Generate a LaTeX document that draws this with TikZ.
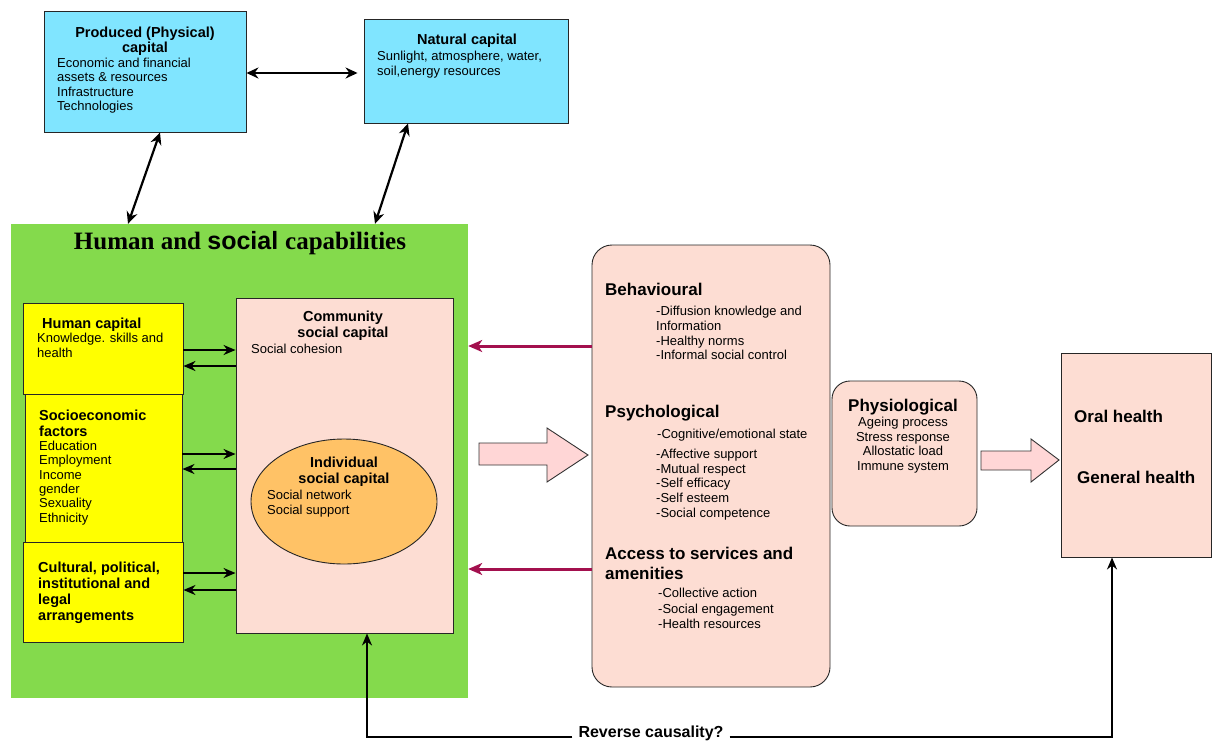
\documentclass[tikz,border=0pt]{standalone}
\usepackage{fontspec}
\setmainfont{Liberation Sans}
\newfontfamily\titleserif{Liberation Serif}
\usetikzlibrary{arrows.meta,shapes.geometric}
\definecolor{capcyan}{RGB}{128,229,255}
\definecolor{capgreen}{RGB}{132,218,76}
\definecolor{capyellow}{RGB}{255,255,0}
\definecolor{softpink}{RGB}{253,221,211}
\definecolor{arrowpink}{RGB}{255,214,214}
\definecolor{indivorange}{RGB}{255,194,102}
\definecolor{causemaroon}{RGB}{163,16,78}
\newcommand\fsz[2]{\fontsize{#1}{#2}\selectfont}
\tikzset{
  box/.style={draw=black!85,line width=0.9pt,inner sep=0pt},
  capbox/.style={box,fill=capcyan},
  factorbox/.style={box,fill=capyellow},
  pinkbox/.style={box,fill=softpink},
  txt/.style={inner sep=0pt,anchor=west,align=left},
  dblarr/.style={{Stealth[length=12pt,width=11pt]}-{Stealth[length=12pt,width=11pt]},line width=2.2pt},
  arr/.style={-{Stealth[length=12pt,width=10pt]},line width=2.2pt},
  redarr/.style={-{Stealth[length=14pt,width=12pt,inset=4pt]},line width=3pt,draw=causemaroon},
  blockarr/.style={draw=black!80,line width=0.9pt,fill=arrowpink}
}
\begin{document}
\begin{tikzpicture}[x=1pt,y=-1pt]
  \useasboundingbox (0,0) rectangle (1217,742);
  % capitals on top
  \node[capbox,minimum width=202pt,minimum height=121pt] (produced) at (145,71.5) {};
  \node[capbox,minimum width=204pt,minimum height=104pt] (natural) at (466,71) {};
  \node[inner sep=0pt,align=center,font=\bfseries\fsz{14.5}{15.5}] (producedT) at (145,41) {Produced (Physical)\\capital};
  \node[txt,font=\fsz{13}{14.3}] (producedB) at (57,85.5) {Economic and financial\\assets \& resources\\Infrastructure\\Technologies};
  \node[inner sep=0pt,font=\bfseries\fsz{14.5}{15.5}] (naturalT) at (467,41) {Natural capital};
  \node[txt,font=\fsz{13}{15}] (naturalB) at (377,64.5) {Sunlight, atmosphere, water,\\soil,energy resources};

  % human and social capabilities
  \node[fill=capgreen,inner sep=0pt,minimum width=457pt,minimum height=474pt] (capab) at (239.5,461) {};
  \node[inner sep=0pt,font=\bfseries\fsz{25}{27}] (capabT) at (240,243) {\titleserif Human and \fontspec{Liberation Sans}social \titleserif capabilities};

  \node[factorbox,minimum width=160pt,minimum height=91pt] (humancap) at (103,348.5) {};
  \node[factorbox,minimum width=157pt,minimum height=148pt] (socio) at (103.5,468) {};
  \node[factorbox,minimum width=160pt,minimum height=100pt] (cultural) at (103,592) {};
  \node[txt,font=\bfseries\fsz{14.5}{16}] (humancapT) at (42,325) {Human capital};
  \node[txt,font=\fsz{13}{15}] (humancapB) at (37,345.5) {Knowledge. skills and\\health};
  \node[txt,font=\bfseries\fsz{14.5}{16}] (socioT) at (39,423) {Socioeconomic\\factors};
  \node[txt,font=\fsz{13}{14.4}] (socioB) at (39,483) {Education\\Employment\\Income\\gender\\Sexuality\\Ethnicity};
  \node[txt,font=\bfseries\fsz{14.5}{16}] (culturalT) at (38,593) {Cultural, political,\\institutional and\\legal\\arrangements};

  \node[pinkbox,minimum width=217pt,minimum height=335pt] (comm) at (344.5,465.5) {};
  \node[inner sep=0pt,align=center,font=\bfseries\fsz{14.5}{16}] (commT) at (343,326) {Community\\social capital};
  \node[txt,font=\fsz{13}{15}] (commB) at (251,349) {Social cohesion};
  \node[ellipse,draw=black!85,line width=0.9pt,fill=indivorange,inner sep=0pt,minimum width=186pt,minimum height=125pt] (indiv) at (344,501.5) {};
  \node[inner sep=0pt,align=center,font=\bfseries\fsz{14.5}{16}] (indivT) at (344,472) {Individual\\social capital};
  \node[txt,font=\fsz{13}{15}] (indivB) at (267,503.5) {Social network\\Social support};

  \draw[arr] (humancap.east |- 0,350) -- (comm.west |- 0,350);
  \draw[arr] (comm.west |- 0,366) -- (humancap.east |- 0,366);
  \draw[arr] (socio.east |- 0,454) -- (comm.west |- 0,454);
  \draw[arr] (comm.west |- 0,469) -- (socio.east |- 0,469);
  \draw[arr] (cultural.east |- 0,573) -- (comm.west |- 0,573);
  \draw[arr] (comm.west |- 0,590) -- (cultural.east |- 0,590);

  \draw[dblarr,shorten >=6pt] (produced.east |- 0,73) -- (natural.west |- 0,73);
  \draw[dblarr] (produced.south -| 160,0) -- (capab.north -| 128,0);
  \draw[dblarr] (natural.south -| 408,0) -- (capab.north -| 375,0);

  % mechanisms
  \node[pinkbox,rounded corners=20pt,minimum width=238pt,minimum height=442pt] (mech) at (711,466) {};
  \node[txt,font=\bfseries\fsz{17}{18}] (behavT) at (605,289) {Behavioural};
  \node[txt,font=\fsz{13}{14.7}] (behavB) at (656,333) {-Diffusion knowledge and\\Information\\-Healthy norms\\-Informal social control};
  \node[txt,font=\bfseries\fsz{17}{18}] (psychT) at (605,413) {Psychological};
  \node[txt,font=\fsz{13}{14.7}] (psychA) at (657,435) {-Cognitive/emotional state};
  \node[txt,font=\fsz{13}{14.75}] (psychB) at (656,484.5) {-Affective support\\-Mutual respect\\-Self efficacy\\-Self esteem\\-Social competence};
  \node[txt,font=\bfseries\fsz{17}{20}] (accessT) at (605,563) {Access to services and\\amenities};
  \node[txt,font=\fsz{13}{15.5}] (accessB) at (658,608.5) {-Collective action\\-Social engagement\\-Health resources};

  \draw[redarr] (mech.west |- 0,346) -- (capab.east |- 0,346);
  \draw[redarr] (mech.west |- 0,569) -- (capab.east |- 0,569);
  \draw[blockarr] (479,443) -- (547,443) -- (547,428) -- (588,455) -- (547,482) -- (547,465) -- (479,465) -- cycle;

  % physiological and outcomes
  \node[pinkbox,rounded corners=18pt,minimum width=145pt,minimum height=145pt] (physio) at (904.5,453.5) {};
  \node[inner sep=0pt,font=\bfseries\fsz{17}{18}] (physioT) at (903,407) {Physiological};
  \node[inner sep=0pt,align=center,font=\fsz{13}{14.7}] (physioB) at (903,445) {Ageing process\\Stress response\\Allostatic load\\Immune system};
  \draw[blockarr] (981,451) -- (1031,451) -- (1031,439) -- (1059,460) -- (1031,482) -- (1031,470) -- (981,470) -- cycle;

  \node[pinkbox,minimum width=150pt,minimum height=204pt] (health) at (1136,455) {};
  \node[txt,font=\bfseries\fsz{17}{18}] (oral) at (1074,416) {Oral health};
  \node[txt,font=\bfseries\fsz{17}{18}] (general) at (1077,477) {General health};

  % reverse causality
  \node[inner sep=6pt,font=\bfseries\fsz{16}{17}] (reverse) at (651,733) {Reverse causality?};
  \draw[arr] (reverse.west |- 0,737) -| ([xshift=22.5pt]comm.south);
  \draw[arr] (reverse.east |- 0,737) -| ([xshift=-24pt]health.south);
\end{tikzpicture}
\end{document}
